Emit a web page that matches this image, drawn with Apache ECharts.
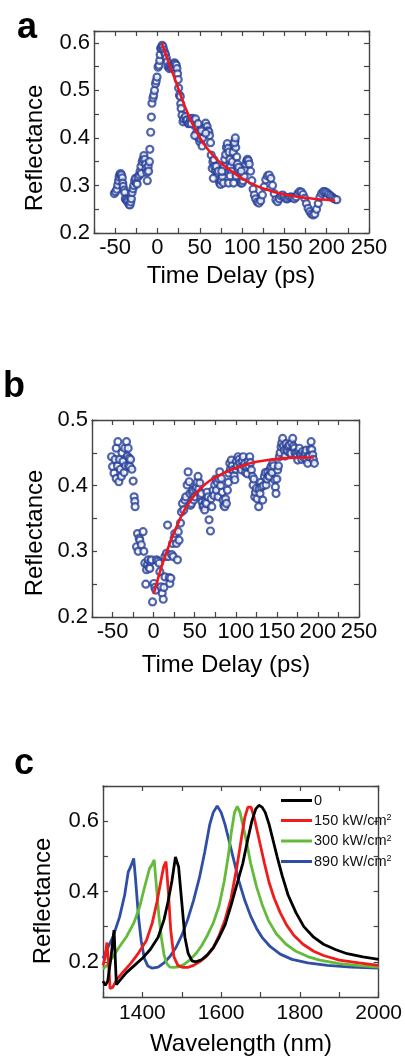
<!DOCTYPE html>
<html><head><meta charset="utf-8">
<script src="https://cdn.jsdelivr.net/npm/echarts@6/dist/echarts.min.js"></script>
<style>html,body{margin:0;padding:0;background:#fff}#c{width:405px;height:1056px}</style>
</head><body><div id="c"></div><script>
// ---------- Panel a : measured reflectance vs time delay ----------
const aTime = [-51,-49.5,-48,-47,-46,-45.3,-44.5,-43.5,-42.5,-41.5,-41,-40.5,-39.5,-38.7,-38,-37,-36,-35,-33.5,-32.5,-31.5,-30.8,-30,-29,-28,-27,-26,-25,-24,-23,-21.5,-20.5,-19.5,-19,-18,-17,-16,-15,-14,-13.5,-12.5,-12,-11,-10.5,-9.5,-9,-8,-7.2,-6.5,-5.3,-4.5,-3.5,-2.3,-1.5,-0.5,0.7,1.8,2.7,3.2,3.8,4.5,5.5,6.5,7.5,8.6,9.5,10.5,11.5,12.5,14,15,16.5,18,19,20,21,22.2,23,23.8,24.5,25,26,27,27.5,28,29,30.2,31,33,34,35,36.5,38,39,41,42,43,44.5,46,47,48.8,50,51,52.8,53.5,54.8,56,57,58.7,59.5,60.7,61.5,62.7,63.5,64.7,65.5,66.7,67.5,68.7,69.5,70.6,71.5,72.6,73.5,74.6,75.5,76.6,77.5,78.6,79.5,80.6,81.5,82.5,83.5,84.5,85.5,86.5,87.5,88.5,89.5,90.5,91.5,92.5,93.7,94.5,95.2,96.4,97.5,98.4,100,101,102.4,103.5,104.4,105.5,106.5,107.5,108.5,110,111.5,113,114.5,116,118,120,122,124,126,128,130,132,134,136,138,140,142,144,146,148,150,152,154,156,158,160,162,164,166,168,170,172,174,176,178,180,182,184,186,188,190,192,194,196,198,200,202,204,206,208,210,212,66,72,78,84,90,96,86,76,93,99,40,45,48,52,44,57,91,92];
const aRefl = [0.283,0.287,0.292,0.301,0.31,0.318,0.323,0.325,0.322,0.316,0.305,0.298,0.29,0.285,0.272,0.27,0.268,0.265,0.26,0.259,0.265,0.272,0.285,0.293,0.3,0.31,0.315,0.305,0.303,0.318,0.322,0.33,0.34,0.325,0.35,0.355,0.363,0.355,0.345,0.335,0.328,0.31,0.34,0.33,0.35,0.376,0.412,0.444,0.473,0.484,0.49,0.5,0.514,0.52,0.528,0.549,0.553,0.563,0.575,0.588,0.59,0.595,0.592,0.585,0.579,0.575,0.568,0.56,0.55,0.546,0.55,0.548,0.55,0.555,0.558,0.556,0.553,0.546,0.535,0.523,0.505,0.49,0.487,0.472,0.462,0.448,0.434,0.44,0.445,0.437,0.438,0.43,0.431,0.44,0.441,0.437,0.434,0.425,0.41,0.405,0.4,0.392,0.398,0.383,0.4,0.413,0.425,0.431,0.424,0.415,0.413,0.405,0.39,0.364,0.336,0.35,0.354,0.34,0.33,0.34,0.326,0.32,0.312,0.305,0.302,0.31,0.319,0.33,0.34,0.355,0.365,0.38,0.388,0.378,0.37,0.355,0.34,0.33,0.35,0.37,0.385,0.393,0.38,0.36,0.345,0.33,0.32,0.31,0.305,0.305,0.31,0.319,0.333,0.345,0.352,0.355,0.352,0.345,0.33,0.31,0.292,0.28,0.272,0.265,0.263,0.268,0.28,0.297,0.312,0.32,0.322,0.315,0.3,0.283,0.27,0.266,0.272,0.278,0.28,0.276,0.272,0.272,0.275,0.276,0.274,0.272,0.276,0.283,0.287,0.286,0.281,0.273,0.262,0.252,0.245,0.24,0.238,0.24,0.25,0.262,0.275,0.283,0.287,0.287,0.285,0.282,0.279,0.276,0.273,0.271,0.27,0.315,0.33,0.305,0.305,0.305,0.338,0.32,0.33,0.32,0.33,0.43,0.44,0.43,0.415,0.405,0.41,0.39,0.4];
const aFitTime = [5,10,15,20,25,30,35,40,50,60,70,80,90,100,110,120,130,140,150,160,170,180,190,200,210];
const aFitRefl = [0.600,0.575,0.550,0.527,0.502,0.477,0.455,0.435,0.401,0.375,0.355,0.340,0.327,0.315,0.305,0.297,0.291,0.285,0.281,0.278,0.275,0.273,0.271,0.270,0.268];

// ---------- Panel b ----------
const bTime = [-51.2,-50,-48.2,-47,-45.5,-45.5,-44,-43.5,-42.3,-41.5,-40.5,-39.3,-38.5,-37.2,-36,-35.1,-34,-33,-32,-31,-30.5,-29.7,-28.9,-28,-26.5,-24.9,-23.7,-22.9,-22.5,-20.8,-19.6,-18.8,-17.5,-16.8,-15,-12.8,-11.9,-10.7,-9.5,-8.6,-7.5,-6.6,-5.5,-4.6,-3.5,-2.6,-1.3,0.3,1.5,2.7,3.5,5.2,6.8,7.6,8.8,10.4,11.7,12.5,13.8,13.8,15.7,17,17.8,19,19.7,21,22,23,23.8,25,25.8,27.8,29,30,31,32.7,33.9,35.1,36.7,38,39.2,40.8,42,43.3,44.1,45,46.1,47,48.1,49,50.1,51,52.1,53,54.1,55,56.3,57,58.2,59,60.2,61,62.2,63,64.3,65,66.3,67.5,69.2,70,70.8,72.4,73.5,74.4,75.5,76.5,77.5,78.5,79.5,80.5,81.5,82.5,83.5,84.6,85.5,86.6,87.5,88.6,89.8,91,91.5,92.7,93.5,94.7,95.5,96.7,98,98.8,100,100.8,102,102.8,104,104.9,106,106.9,108,109,110,111,112,113,114,115,116,117,118,119,120.3,121.1,122,123.1,124,125.1,126,127.9,128.5,129.5,130.5,131.2,132.8,133.5,134.8,136,136.9,138,138.9,140,140.9,142,143,144,145,146,147.4,148.2,149,150,151,152,153.1,154,155.1,156,157.1,158,159.2,160,161.2,162,163.2,164,165.2,166,167.3,168,169.3,170,171.3,172,173.4,174.5,175.4,176.5,177.4,178.5,179.5,180.5,181.5,182.5,183.5,184.5,185.6,186.5,187.6,188.5,189.6,190.5,191.7,192.5,193.7,194.5,195.7];
const bRefl = [0.444,0.429,0.419,0.44,0.457,0.411,0.43,0.467,0.406,0.44,0.425,0.414,0.45,0.437,0.42,0.457,0.43,0.467,0.445,0.457,0.43,0.442,0.429,0.44,0.425,0.407,0.383,0.376,0.368,0.307,0.327,0.3,0.32,0.317,0.31,0.33,0.3,0.282,0.25,0.272,0.28,0.287,0.275,0.274,0.285,0.287,0.223,0.251,0.245,0.241,0.287,0.285,0.282,0.269,0.246,0.236,0.227,0.245,0.261,0.292,0.297,0.34,0.292,0.26,0.251,0.259,0.295,0.312,0.292,0.32,0.327,0.312,0.287,0.33,0.317,0.343,0.36,0.373,0.363,0.378,0.383,0.401,0.421,0.406,0.388,0.37,0.373,0.39,0.393,0.378,0.383,0.395,0.398,0.405,0.414,0.395,0.404,0.385,0.388,0.375,0.368,0.37,0.363,0.375,0.373,0.39,0.383,0.348,0.331,0.38,0.368,0.393,0.385,0.401,0.41,0.393,0.405,0.383,0.41,0.421,0.4,0.411,0.39,0.378,0.37,0.368,0.38,0.373,0.393,0.405,0.419,0.434,0.425,0.439,0.43,0.424,0.415,0.409,0.425,0.437,0.43,0.444,0.44,0.434,0.428,0.424,0.438,0.444,0.43,0.434,0.42,0.429,0.418,0.437,0.43,0.444,0.435,0.424,0.414,0.401,0.41,0.383,0.39,0.396,0.38,0.368,0.395,0.388,0.405,0.398,0.378,0.4,0.414,0.42,0.401,0.41,0.421,0.415,0.414,0.425,0.429,0.42,0.434,0.43,0.409,0.398,0.388,0.41,0.424,0.43,0.444,0.45,0.459,0.465,0.472,0.46,0.454,0.445,0.464,0.455,0.452,0.46,0.462,0.45,0.449,0.465,0.472,0.46,0.457,0.45,0.449,0.445,0.439,0.452,0.457,0.448,0.447,0.44,0.452,0.445,0.442,0.45,0.454,0.44,0.434,0.445,0.444,0.455,0.467,0.455,0.447,0.44,0.434];
const bFitTime = [0,5,10,15,20,25,30,35,40,50,60,70,80,90,100,110,120,140,160,180,195];
const bFitRefl = [0.235,0.257,0.278,0.296,0.313,0.329,0.343,0.357,0.368,0.386,0.399,0.409,0.416,0.422,0.427,0.431,0.435,0.439,0.442,0.443,0.443];

// ---------- Panel c : spectra ----------
const cNames = ['0','150 kW/cm2','300 kW/cm2','890 kW/cm2'];
const cWl0 = [1300,1306,1312,1320,1328,1334,1345,1360,1380,1400,1420,1440,1455,1465,1475,1484,1492,1500,1508,1516,1526,1536,1550,1565,1580,1595,1610,1625,1640,1655,1668,1678,1688,1696,1704,1712,1722,1732,1742,1755,1770,1790,1810,1835,1860,1890,1920,1960,2000];
const cR0 = [0.145,0.133,0.145,0.21,0.29,0.135,0.15,0.17,0.19,0.21,0.235,0.27,0.32,0.37,0.43,0.498,0.47,0.37,0.27,0.225,0.203,0.2,0.206,0.22,0.24,0.27,0.305,0.36,0.42,0.48,0.55,0.6,0.635,0.645,0.64,0.625,0.59,0.545,0.5,0.445,0.39,0.34,0.3,0.27,0.25,0.235,0.223,0.214,0.207];
const cWl150 = [1300,1305,1310,1314,1318,1325,1335,1350,1370,1390,1410,1425,1437,1447,1454,1460,1466,1472,1480,1490,1503,1515,1530,1545,1562,1580,1595,1610,1625,1640,1652,1660,1668,1676,1684,1692,1700,1710,1722,1735,1750,1766,1785,1808,1835,1860,1900,1950,2000];
const cR150 = [0.19,0.21,0.255,0.2,0.124,0.128,0.15,0.17,0.195,0.225,0.26,0.31,0.37,0.43,0.47,0.485,0.4,0.29,0.215,0.19,0.184,0.184,0.19,0.2,0.215,0.24,0.275,0.32,0.38,0.47,0.555,0.61,0.64,0.64,0.61,0.57,0.53,0.48,0.425,0.38,0.34,0.305,0.275,0.25,0.23,0.218,0.205,0.197,0.19];
const cWl300 = [1300,1310,1325,1340,1360,1378,1393,1405,1418,1424,1430,1436,1442,1448,1455,1462,1470,1480,1492,1505,1520,1535,1550,1565,1580,1595,1608,1618,1626,1634,1641,1648,1656,1664,1675,1690,1705,1720,1740,1765,1790,1820,1850,1900,1950,2000];
const cR300 = [0.18,0.19,0.214,0.24,0.272,0.31,0.356,0.41,0.465,0.475,0.49,0.41,0.33,0.271,0.22,0.195,0.185,0.184,0.186,0.192,0.205,0.222,0.245,0.275,0.31,0.36,0.43,0.5,0.57,0.625,0.642,0.625,0.585,0.545,0.48,0.413,0.36,0.318,0.28,0.25,0.23,0.215,0.205,0.195,0.189,0.185];
const cWl890 = [1300,1310,1325,1342,1355,1364,1370,1378,1383,1390,1397,1405,1414,1425,1440,1455,1470,1485,1500,1515,1530,1545,1558,1571,1580,1590,1600,1610,1620,1632,1645,1660,1675,1690,1705,1725,1750,1780,1820,1870,1930,2000];
const cR890 = [0.21,0.235,0.27,0.327,0.39,0.455,0.47,0.494,0.43,0.33,0.26,0.21,0.188,0.182,0.185,0.197,0.215,0.24,0.275,0.32,0.375,0.44,0.51,0.59,0.625,0.643,0.625,0.59,0.545,0.49,0.43,0.375,0.33,0.295,0.268,0.243,0.222,0.207,0.197,0.19,0.185,0.182];

const FONT = '"Liberation Sans", Arial, Helvetica, sans-serif';
const AX = '#444';
const BLUE_PT = '#263f98';
const RED = '#f3141c';
const cColors = ['#000000', '#f01c1c', '#64bb3a', '#2f4ea6'];

const zip = (xs, ys) => xs.map((x, i) => [x, ys[i]]);

function axisCommon(show, margin, fmt, fs) {
  return {
    axisLine: { show: true, onZero: false, lineStyle: { color: AX, width: 1.4 } },
    axisTick: { show: true, inside: true, length: 5, lineStyle: { color: AX, width: 1.2 } },
    splitLine: { show: false },
    axisLabel: { show: show, margin: margin, formatter: fmt, color: '#0a0a0a', fontSize: fs, fontFamily: FONT, hideOverlap: false }
  };
}
function xAxisCfg(grid, min, max, interval, fmt, margin, show, fs) {
  return Object.assign({ type: 'value', gridIndex: grid, min, max, interval, position: show ? 'bottom' : 'top' },
    axisCommon(show, margin, fmt, fs));
}
function yAxisCfg(grid, min, max, interval, fmt, margin, show, fs) {
  return Object.assign({ type: 'value', gridIndex: grid, min, max, interval, position: show ? 'left' : 'right' },
    axisCommon(show, margin, fmt, fs));
}
const fmtTime = v => (Math.abs(v % 50) < 1e-6 ? String(Math.round(v)) : '');
const fmtTenth = v => (Math.abs(v * 10 - Math.round(v * 10)) < 1e-6 ? v.toFixed(1) : '');
const fmtWl = v => (Math.abs(v % 200) < 1e-6 ? String(Math.round(v)) : '');
const fmtFifth = v => { const k = Math.round(v * 10); return (Math.abs(v * 10 - k) < 1e-6 && k % 2 === 0) ? v.toFixed(1) : ''; };

const chart = echarts.init(document.getElementById('c'), null, { renderer: 'canvas' });

const textEl = (x, y, text, size, rot, bold) => ({
  type: 'text', x, y, rotation: rot || 0,
  style: { text, font: (bold ? 'bold ' : '') + size + 'px ' + FONT, fill: '#000', textAlign: 'center', textVerticalAlign: 'middle' }
});

chart.setOption({
  animation: false,
  backgroundColor: '#fff',
  grid: [
    { left: 94, top: 31, width: 275, height: 202 },
    { left: 92, top: 420, width: 267, height: 197 },
    { left: 103, top: 786, width: 276, height: 211 }
  ],
  xAxis: [
    xAxisCfg(0, -75, 250, 25, fmtTime, 4, true, 22),
    xAxisCfg(0, -75, 250, 25, fmtTime, 4, false, 22),
    xAxisCfg(1, -75, 250, 25, fmtTime, 4, true, 22),
    xAxisCfg(1, -75, 250, 25, fmtTime, 4, false, 22),
    xAxisCfg(2, 1300, 2000, 100, fmtWl, 6, true, 21),
    xAxisCfg(2, 1300, 2000, 100, fmtWl, 6, false, 21)
  ],
  yAxis: [
    yAxisCfg(0, 0.2, 0.625, 0.05, fmtTenth, 4, true, 22),
    yAxisCfg(0, 0.2, 0.625, 0.05, fmtTenth, 4, false, 22),
    yAxisCfg(1, 0.2, 0.5, 0.05, fmtTenth, 4, true, 22),
    yAxisCfg(1, 0.2, 0.5, 0.05, fmtTenth, 4, false, 22),
    yAxisCfg(2, 0.1, 0.7, 0.1, fmtFifth, 4, true, 22),
    yAxisCfg(2, 0.1, 0.7, 0.1, fmtFifth, 4, false, 22)
  ],
  legend: {
    data: cNames,
    orient: 'vertical', left: 276, top: 788,
    itemWidth: 31, itemHeight: 3, itemGap: 5, icon: 'rect',
    selectedMode: false,
    formatter: name => name === '0' ? '{t|0}' : '{t|' + name.slice(0, -1) + '}{s|2}',
    textStyle: {
      color: '#111', fontFamily: FONT, padding: [0, 0, 0, -3],
      rich: {
        t: { fontSize: 14.5, lineHeight: 14, fontFamily: FONT, color: '#111' },
        s: { fontSize: 9, lineHeight: 14, verticalAlign: 'top', fontFamily: FONT, color: '#111', padding: [0, 0, 6, 0] }
      }
    }
  },
  graphic: [
    textEl(27, 28, 'a', 36, 0, true),
    textEl(14, 387, 'b', 36, 0, true),
    textEl(24, 764, 'c', 36, 0, true),
    textEl(35, 148, 'Reflectance', 24, Math.PI / 2),
    textEl(231, 276, 'Time Delay (ps)', 24),
    textEl(35, 533, 'Reflectance', 24, Math.PI / 2),
    textEl(226, 665, 'Time Delay (ps)', 24),
    textEl(43, 901, 'Reflectance', 24, Math.PI / 2),
    textEl(241, 1044, 'Wavelength (nm)', 24)
  ],
  series: [
    { type: 'scatter', xAxisIndex: 0, yAxisIndex: 0, data: zip(aTime, aRefl), symbol: 'circle', symbolSize: 7,
      itemStyle: { color: '#fff', borderColor: BLUE_PT, borderWidth: 2.2 }, z: 2 },
    { type: 'line', xAxisIndex: 0, yAxisIndex: 0, data: zip(aFitTime, aFitRefl), smooth: true, showSymbol: false,
      lineStyle: { color: RED, width: 2.6 }, z: 3 },
    { type: 'scatter', xAxisIndex: 2, yAxisIndex: 2, data: zip(bTime, bRefl), symbol: 'circle', symbolSize: 7,
      itemStyle: { color: '#fff', borderColor: BLUE_PT, borderWidth: 2.2 }, z: 2 },
    { type: 'line', xAxisIndex: 2, yAxisIndex: 2, data: zip(bFitTime, bFitRefl), smooth: true, showSymbol: false,
      lineStyle: { color: RED, width: 2.6 }, z: 3 },
    { name: cNames[0], type: 'line', xAxisIndex: 4, yAxisIndex: 4, data: zip(cWl0, cR0), showSymbol: false,
      itemStyle: { color: cColors[0] }, lineStyle: { color: cColors[0], width: 2.8 }, z: 5 },
    { name: cNames[1], type: 'line', xAxisIndex: 4, yAxisIndex: 4, data: zip(cWl150, cR150), showSymbol: false,
      itemStyle: { color: cColors[1] }, lineStyle: { color: cColors[1], width: 2.8 }, z: 4 },
    { name: cNames[2], type: 'line', xAxisIndex: 4, yAxisIndex: 4, data: zip(cWl300, cR300), showSymbol: false,
      itemStyle: { color: cColors[2] }, lineStyle: { color: cColors[2], width: 2.8 }, z: 3 },
    { name: cNames[3], type: 'line', xAxisIndex: 4, yAxisIndex: 4, data: zip(cWl890, cR890), showSymbol: false,
      itemStyle: { color: cColors[3] }, lineStyle: { color: cColors[3], width: 2.8 }, z: 2 }
  ]
});
</script></body></html>
